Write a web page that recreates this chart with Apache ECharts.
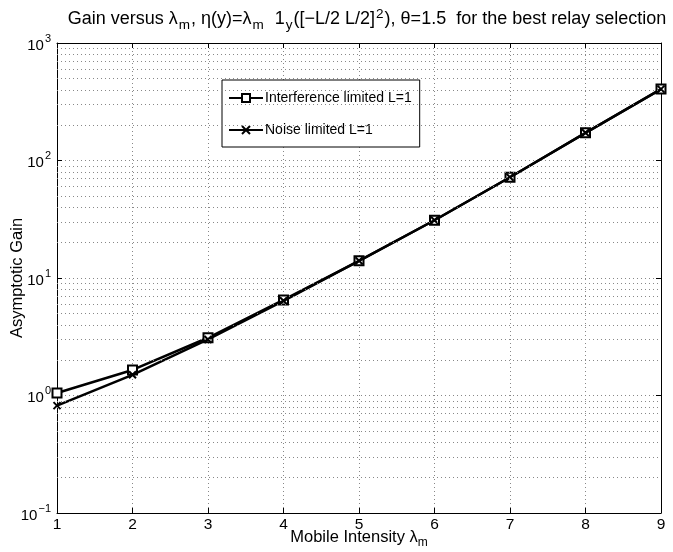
<!DOCTYPE html>
<html><head><meta charset="utf-8">
<script src="https://cdn.jsdelivr.net/npm/echarts@6/dist/echarts.min.js"></script>
<style>html,body{margin:0;padding:0;background:#fff}#c{width:673px;height:552px}</style>
</head><body><div id="c"></div>
<script>
var xValues = [1, 2, 3, 4, 5, 6, 7, 8, 9];
var interference = [1.05, 1.65, 3.1, 6.5, 14.0, 31.0, 72, 172, 405];
var noise = [0.82, 1.5, 3.0, 6.4, 14.0, 31.0, 72, 172, 405];
var minorGrid = [0.2,0.3,0.4,0.5,0.6,0.7,0.8,0.9,2,3,4,5,6,7,8,9,20,30,40,50,60,70,80,90,200,300,400,500,600,700,800,900];
var seriesNames = ['Interference limited L=1', 'Noise limited L=1'];

var FONT = 'Liberation Sans';
var chart = echarts.init(document.getElementById('c'), null, {renderer: 'canvas'});
var dotted = {color: '#888', width: 1, type: [1, 3]};
var cross = 'path://M0,0L10,10M10,0L0,10';
function pairs(arr) { return xValues.map(function (x, i) { return [x, arr[i]]; }); }
function logLabel(v) {
  var e = Math.round(Math.log10(v));
  return '{b|10}{s|' + (e < 0 ? '\u2212' + (-e) : e) + '}';
}
var supRich = {
  b: {fontFamily: FONT, fontSize: 15, color: '#000', lineHeight: 20, verticalAlign: 'bottom'},
  s: {fontFamily: FONT, fontSize: 11, color: '#000', lineHeight: 20, verticalAlign: 'top', padding: [0, 0, 7, 1]}
};
chart.setOption({
  animation: false,
  backgroundColor: '#fff',
  title: {
    text: 'Gain versus \u03bb{sub|m}, \u03b7(y)=\u03bb{sub|m}  1{sub|y}([\u2212L/2 L/2]{sup|2}), \u03b8=1.5  for the best relay selection',
    left: 362, top: 2, textAlign: 'center',
    textStyle: {
      fontFamily: FONT, fontSize: 18, fontWeight: 'normal', color: '#000',
      rich: {
        sub: {fontFamily: FONT, fontSize: 13.5, color: '#000', padding: [11, 1, 0, 1]},
        sup: {fontFamily: FONT, fontSize: 13.5, color: '#000', padding: [0, 1, 10, 1]}
      }
    }
  },
  grid: {left: 57, right: 12, top: 43, bottom: 39, containLabel: false, outerBoundsMode: 'none'},
  legend: {
    left: 222, top: 80, orient: 'vertical',
    data: seriesNames,
    itemWidth: 34, itemHeight: 10, itemGap: 18,
    padding: [11, 8, 10, 6],
    borderColor: '#000', borderWidth: 1, backgroundColor: '#fff',
    textStyle: {fontFamily: FONT, fontSize: 14, color: '#000', padding: [0, 0, 0, -3]}
  },
  xAxis: [{
    type: 'value', min: 1, max: 9, interval: 1,
    name: 'Mobile Intensity \u03bb{sub|m}', nameLocation: 'middle', nameGap: 12, nameMoveOverlap: false,
    nameTextStyle: {fontFamily: FONT, fontSize: 16.5, color: '#000',
      rich: {sub: {fontFamily: FONT, fontSize: 12, color: '#000', padding: [12, 0, 0, 0]}}},
    axisLine: {lineStyle: {color: '#000', width: 1}},
    axisTick: {inside: true, length: 5, lineStyle: {color: '#000'}},
    axisLabel: {fontFamily: FONT, fontSize: 15.5, color: '#000', margin: 4},
    splitLine: {show: true, lineStyle: dotted}
  }, {
    type: 'value', min: 1, max: 9, interval: 1, position: 'top',
    axisLine: {lineStyle: {color: '#000', width: 1}},
    axisTick: {inside: true, length: 5, lineStyle: {color: '#000'}},
    axisLabel: {show: false}, splitLine: {show: false}
  }],
  yAxis: [{
    type: 'log', logBase: 10, min: 0.1, max: 1000,
    name: 'Asymptotic Gain', nameLocation: 'middle', nameGap: 31, nameRotate: 90, nameMoveOverlap: false,
    nameTextStyle: {fontFamily: FONT, fontSize: 16.5, color: '#000'},
    axisLine: {show: true, lineStyle: {color: '#000', width: 1}},
    axisTick: {inside: true, length: 5, lineStyle: {color: '#000'}},
    axisLabel: {formatter: logLabel, rich: supRich, margin: 6},
    splitLine: {show: true, lineStyle: dotted}
  }, {
    type: 'log', logBase: 10, min: 0.1, max: 1000, position: 'right',
    axisLine: {show: true, lineStyle: {color: '#000', width: 1}},
    axisTick: {inside: true, length: 5, lineStyle: {color: '#000'}},
    axisLabel: {show: false}, splitLine: {show: false}
  }],
  series: [{
    type: 'line', name: 'grid-minor', data: [], silent: true,
    markLine: {
      silent: true, symbol: 'none', label: {show: false},
      lineStyle: dotted, animation: false,
      data: minorGrid.map(function (v) { return {yAxis: v}; })
    }
  }, {
    type: 'line', name: seriesNames[0], data: pairs(interference),
    lineStyle: {color: '#000', width: 2.5},
    symbol: 'rect', symbolSize: 9,
    itemStyle: {color: '#fff', borderColor: '#000', borderWidth: 2},
    z: 3
  }, {
    type: 'line', name: seriesNames[1], data: pairs(noise),
    lineStyle: {color: '#000', width: 2.5},
    symbol: cross, symbolSize: 7,
    itemStyle: {color: '#000', borderColor: '#000', borderWidth: 2},
    z: 4
  }]
});
</script></body></html>
